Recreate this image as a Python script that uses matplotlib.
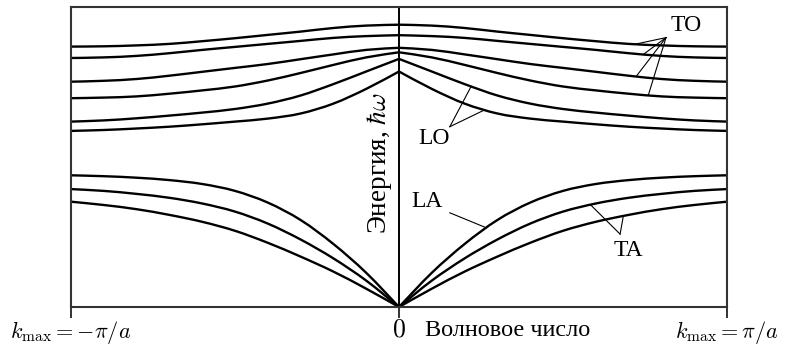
import numpy as np
import matplotlib
matplotlib.use("Agg")
import matplotlib.pyplot as plt
from matplotlib.path import Path
from matplotlib.patches import PathPatch

plt.rcParams["mathtext.fontset"] = "cm"
plt.rcParams["font.family"] = ["Liberation Serif", "DejaVu Serif"]

# wave number, in units of pi/a (one half of the zone, mirrored below)
k = [0.0, 0.1, 0.2, 0.3, 0.4, 0.5, 0.6, 0.7, 0.8, 0.9, 1.0]

# optical branches (TO: four upper, LO: two lower)
to_1 = [0.941, 0.938, 0.930, 0.918, 0.907, 0.896, 0.886, 0.877, 0.872, 0.869, 0.868]
to_2 = [0.906, 0.903, 0.897, 0.887, 0.877, 0.867, 0.857, 0.846, 0.837, 0.832, 0.830]
to_3 = [0.864, 0.857, 0.842, 0.826, 0.810, 0.797, 0.784, 0.771, 0.760, 0.754, 0.751]
to_4 = [0.849, 0.832, 0.807, 0.780, 0.755, 0.735, 0.722, 0.711, 0.702, 0.698, 0.696]
lo_1 = [0.827, 0.785, 0.743, 0.705, 0.678, 0.660, 0.648, 0.638, 0.629, 0.622, 0.618]
lo_2 = [0.785, 0.727, 0.678, 0.645, 0.628, 0.618, 0.609, 0.601, 0.595, 0.590, 0.587]

# acoustic branches
la = [0.0, 0.114, 0.210, 0.290, 0.348, 0.387, 0.410, 0.423, 0.431, 0.436, 0.439]
ta_1 = [0.0, 0.088, 0.162, 0.225, 0.278, 0.318, 0.345, 0.364, 0.377, 0.387, 0.393]
ta_2 = [0.0, 0.061, 0.118, 0.168, 0.214, 0.254, 0.284, 0.307, 0.326, 0.340, 0.351]

branches = [to_1, to_2, to_3, to_4, lo_1, lo_2, la, ta_1, ta_2]

tick_pos = [-1, 0, 1]
tick_labels = [r"$k_{\max} = -\pi/a$", r"$0$", r"$k_{\max} = \pi/a$"]

kk = np.array(k)


def smooth_path(x, y):
    # cubic Bezier segments through the points (Catmull-Rom tangents)
    pts = np.column_stack([x, y])
    n = len(pts)
    verts = [pts[0]]
    codes = [Path.MOVETO]
    for i in range(n - 1):
        p0 = pts[i - 1] if i > 0 else pts[i]
        p1, p2 = pts[i], pts[i + 1]
        p3 = pts[i + 2] if i + 2 < n else pts[i + 1]
        c1 = p1 + (p2 - p0) / 6
        c2 = p2 - (p3 - p1) / 6
        verts += [c1, c2, p2]
        codes += [Path.CURVE4] * 3
    return Path(verts, codes)


fig = plt.figure(figsize=(7.89, 3.47), dpi=100)
ax = fig.add_axes([71 / 789, 1 - 307 / 347, 656 / 789, 300 / 347])

for e in branches:
    for side in (1, -1):
        ax.add_patch(PathPatch(smooth_path(side * kk, np.array(e)),
                               fill=False, edgecolor="black", lw=1.7,
                               joinstyle="round", capstyle="round"))

ax.axvline(0, color="black", lw=1.4)
ax.set_xlim(-1, 1)
ax.set_ylim(0, 1.0)

for s in ax.spines.values():
    s.set_color("#333333")
    s.set_linewidth(1.5)

ax.set_yticks([])
ax.set_xticks(tick_pos)
ax.set_xticklabels(tick_labels, fontsize=16)
ax.get_xticklabels()[1].set_fontsize(18.5)
ax.tick_params(axis="x", direction="out", length=8, width=1.4, pad=1,
               color="#333333")

ax.text(0.08, -0.097, "Волновое число", fontsize=17.5, ha="left",
        va="baseline", clip_on=False)
ax.text(-0.058, 0.48, r"Энергия, $\hbar\omega$", fontsize=19.5, rotation=90,
        ha="center", va="center")

# leader lines to the branch labels
thin = dict(color="black", lw=0.8)


def leader(hub, kx, e):
    ax.plot([hub[0], kx], [hub[1], np.interp(kx, kk, e)], **thin)


to_hub = (0.814, 0.898)
for kx, e in [(0.72, to_1), (0.745, to_2), (0.723, to_3), (0.76, to_4)]:
    leader(to_hub, kx, e)
ax.text(0.875, 0.937, "TO", fontsize=17, ha="center", va="center")

lo_hub = (0.155, 0.601)
for kx, e in [(0.22, lo_1), (0.262, lo_2)]:
    leader(lo_hub, kx, e)
ax.text(0.107, 0.563, "LO", fontsize=17, ha="center", va="center")

leader((0.155, 0.314), 0.267, la)
ax.text(0.087, 0.352, "LA", fontsize=17, ha="center", va="center")

ta_hub = (0.674, 0.243)
for kx, e in [(0.584, ta_1), (0.684, ta_2)]:
    leader(ta_hub, kx, e)
ax.text(0.698, 0.187, "TA", fontsize=17, ha="center", va="center")

fig.savefig("out.png", dpi=100)
